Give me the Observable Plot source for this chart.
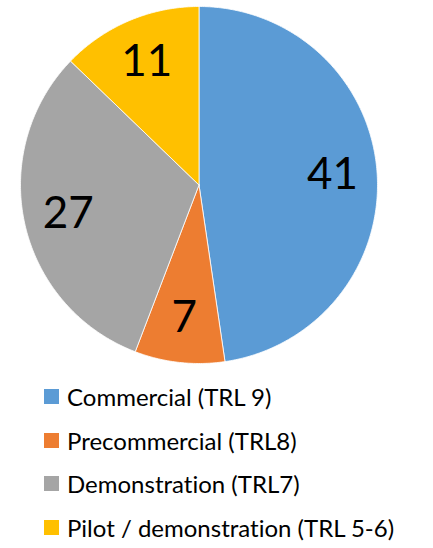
<!DOCTYPE html>
<html>
<head>
<meta charset="utf-8">
<script src="https://cdn.jsdelivr.net/npm/d3@7"></script>
<script src="https://cdn.jsdelivr.net/npm/@observablehq/plot@0.6"></script>
<style>
  body { margin: 0; background: #fff; }
  #legend { padding: 5px 0 0 44px; font-family: Lato, "Open Sans", sans-serif; font-size: 24px; color: #000; font-variant-ligatures: none; }
  .row { display: flex; align-items: center; height: 43.5px; }
  .sw { width: 15px; height: 15px; margin-right: 8px; flex: none; }
</style>
</head>
<body>
<div id="chart"></div>
<div id="legend"></div>
<script>
const categories = ["Commercial (TRL 9)", "Precommercial (TRL8)", "Demonstration (TRL7)", "Pilot / demonstration (TRL 5-6)"];
const values = [41, 7, 27, 11];
const colors = ["#5B9BD5", "#ED7D31", "#A5A5A5", "#FFC000"];

const total = d3.sum(values);
let acc = 0;
const slices = categories.map((c, i) => {
  const a0 = acc / total * 2 * Math.PI;
  acc += values[i];
  const a1 = acc / total * 2 * Math.PI;
  return {category: c, value: values[i], a0, a1};
});

// Polygon points for each slice (center + arc)
const pts = [];
for (const s of slices) {
  pts.push({category: s.category, x: 0, y: 0});
  const n = Math.max(2, Math.ceil((s.a1 - s.a0) / 0.01));
  for (let k = 0; k <= n; k++) {
    const a = s.a0 + (s.a1 - s.a0) * k / n;
    pts.push({category: s.category, x: Math.sin(a), y: Math.cos(a)});
  }
  pts.push({category: s.category, x: 0, y: 0});
}

const labelR = 0.75;
const labels = slices.map(s => {
  const m = (s.a0 + s.a1) / 2;
  return {text: String(s.value), x: labelR * Math.sin(m), y: labelR * Math.cos(m)};
});

const plot = Plot.plot({
  width: 433,
  height: 370,
  marginLeft: 20,
  marginRight: 56,
  marginTop: 6,
  marginBottom: 7,
  x: {domain: [-1, 1], axis: null},
  y: {domain: [-1, 1], axis: null},
  color: {domain: categories, range: colors},
  style: {background: "white"},
  marks: [
    Plot.line(pts, {x: "x", y: "y", z: "category", fill: "category", stroke: "white", strokeWidth: 0.8, curve: "linear"}),
    Plot.text(labels, {x: "x", y: "y", text: "text", fontSize: 44, fontFamily: "Lato, 'Open Sans', sans-serif", fill: "black"})
  ]
});
document.getElementById("chart").appendChild(plot);

const legend = document.getElementById("legend");
categories.forEach((c, i) => {
  const row = document.createElement("div");
  row.className = "row";
  const sw = document.createElement("span");
  sw.className = "sw";
  sw.style.background = plot.scale("color").apply(c);
  const t = document.createElement("span");
  t.textContent = c;
  row.appendChild(sw);
  row.appendChild(t);
  legend.appendChild(row);
});
</script>
</body>
</html>
